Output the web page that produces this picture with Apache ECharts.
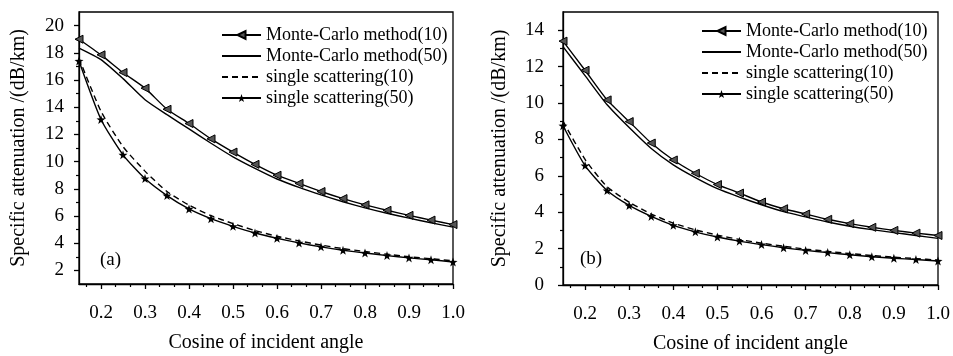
<!DOCTYPE html>
<html>
<head>
<meta charset="utf-8">
<script src="https://cdn.jsdelivr.net/npm/echarts@6/dist/echarts.min.js"></script>
<style>
html,body{margin:0;padding:0;background:#fff;}
#c{width:953px;height:356px;}
</style>
</head>
<body>
<div id="c"></div>
<script>
// ---- data ----
var cosAngle = [0.15,0.2,0.25,0.3,0.35,0.4,0.45,0.5,0.55,0.6,0.65,0.7,0.75,0.8,0.85,0.9,0.95,1.0];
var seriesNames = ["Monte-Carlo method(10)","Monte-Carlo method(50)","single scattering(10)","single scattering(50)"];
// panel (a)
var mc10a = [19.0,17.85,16.55,15.4,13.85,12.8,11.67,10.7,9.8,9.0,8.4,7.8,7.28,6.82,6.42,6.05,5.7,5.37];
var mc50a = [18.35,17.5,16.1,14.55,13.45,12.4,11.35,10.35,9.5,8.72,8.1,7.55,7.05,6.6,6.2,5.84,5.5,5.18];
var ss10a = [17.6,13.7,11.1,9.3,7.8,6.8,6.03,5.44,4.93,4.51,4.17,3.86,3.6,3.39,3.19,3.0,2.86,2.7];
var ss50a = [17.4,13.1,10.5,8.75,7.5,6.52,5.8,5.24,4.75,4.36,4.02,3.73,3.48,3.28,3.09,2.92,2.78,2.62];
// panel (b)
var mc10b = [13.4,11.8,10.17,8.98,7.8,6.87,6.14,5.52,5.05,4.56,4.19,3.9,3.61,3.37,3.17,3.0,2.85,2.72];
var mc50b = [13.1,11.5,9.9,8.65,7.5,6.6,5.9,5.29,4.83,4.41,4.03,3.74,3.46,3.23,3.04,2.88,2.72,2.56];
var ss10b = [9.0,6.9,5.4,4.55,3.9,3.4,3.03,2.74,2.5,2.3,2.13,1.97,1.85,1.73,1.62,1.53,1.45,1.37];
var ss50b = [8.75,6.56,5.19,4.37,3.77,3.28,2.92,2.64,2.41,2.22,2.05,1.9,1.78,1.66,1.55,1.47,1.4,1.32];
// ticks
var xTicks = [0.2,0.3,0.4,0.5,0.6,0.7,0.8,0.9,1.0];
var xMinorTicks = [0.1667,0.2333,0.2667,0.3333,0.3667,0.4333,0.4667,0.5333,0.5667,0.6333,0.6667,0.7333,0.7667,0.8333,0.8667,0.9333,0.9667];
var yTicksA = [2,4,6,8,10,12,14,16,18,20];
var yMinorA = [3,5,7,9,11,13,15,17,19];
var yTicksB = [0,2,4,6,8,10,12,14];
var yMinorB = [1,3,5,7,9,11,13];
var xName = "Cosine of incident angle";
var yName = "Specific attenuation /(dB/km)";
var panelLabels = ["(a)","(b)"];

var FONT = "Liberation Serif, 'Times New Roman', serif";
var STAR = 'path://M0,-10 L2.35,-3.24 L9.51,-3.09 L3.8,1.24 L5.88,8.09 L0,4 L-5.88,8.09 L-3.8,1.24 L-9.51,-3.09 L-2.35,-3.24 Z';

function pairs(ys){ return cosAngle.map(function(x,i){ return [x, ys[i]]; }); }

function mainX(gi){
  return {
    type:'value', gridIndex:gi, min:0.15, max:1.0, position:'bottom',
    name:xName, nameLocation:'middle', nameGap:49,
    nameTextStyle:{fontFamily:FONT, fontSize:20, color:'#000'},
    axisLine:{show:true, lineStyle:{color:'#000', width:1.3}},
    axisTick:{show:true, inside:false, length:5, customValues:xTicks, lineStyle:{color:'#000', width:1.3}},
    axisLabel:{show:true, customValues:xTicks, margin:20, fontFamily:FONT, fontSize:19, color:'#000',
      formatter:function(v){ return v.toFixed(1); }},
    splitLine:{show:false}
  };
}
function minorX(gi){
  return {
    type:'value', gridIndex:gi, min:0.15, max:1.0, position:'bottom',
    axisLine:{show:false},
    axisTick:{show:true, inside:false, length:3, customValues:xMinorTicks, lineStyle:{color:'#000', width:1.2}},
    axisLabel:{show:false},
    splitLine:{show:false}
  };
}
function mainY(gi, mn, mx, ticks, margin, gap){
  return {
    type:'value', gridIndex:gi, min:mn, max:mx, position:'left',
    name:yName, nameLocation:'middle', nameGap:gap,
    nameTextStyle:{fontFamily:FONT, fontSize:20, color:'#000'},
    axisLine:{show:true, lineStyle:{color:'#000', width:1.3}},
    axisTick:{show:true, inside:false, length:5, customValues:ticks, lineStyle:{color:'#000', width:1.3}},
    axisLabel:{show:true, customValues:ticks, margin:margin, fontFamily:FONT, fontSize:19, color:'#000'},
    splitLine:{show:false}
  };
}
function minorY(gi, mn, mx, ticks){
  return {
    type:'value', gridIndex:gi, min:mn, max:mx, position:'left',
    axisLine:{show:false},
    axisTick:{show:true, inside:false, length:3, customValues:ticks, lineStyle:{color:'#000', width:1.2}},
    axisLabel:{show:false},
    splitLine:{show:false}
  };
}

function makeSeries(ai, d){
  var common = {type:'line', xAxisIndex:ai, yAxisIndex:ai, smooth:0.2, animation:false, z:3};
  var hiddenMark = {color:'rgba(0,0,0,0)', borderColor:'rgba(0,0,0,0)', borderWidth:0};
  return [
    Object.assign({}, common, {name:seriesNames[0], data:pairs(d[0]),
      symbol:'triangle', symbolRotate:90, symbolSize:8, showSymbol:true,
      itemStyle:{color:'#555', borderColor:'#000', borderWidth:1},
      lineStyle:{color:'#000', width:1.4, type:'solid'}}),
    Object.assign({}, common, {name:seriesNames[1], data:pairs(d[1]),
      symbol:'circle', showSymbol:false,
      itemStyle:hiddenMark,
      lineStyle:{color:'#000', width:1.4, type:'solid'}}),
    Object.assign({}, common, {name:seriesNames[2], data:pairs(d[2]),
      symbol:'circle', showSymbol:false,
      itemStyle:hiddenMark,
      lineStyle:{color:'#000', width:1.4, type:[6,4]}}),
    Object.assign({}, common, {name:seriesNames[3], data:pairs(d[3]),
      symbol:STAR, symbolSize:9, showSymbol:true,
      itemStyle:{color:'#000', borderColor:'#000', borderWidth:0},
      lineStyle:{color:'#000', width:1.4, type:'solid'}})
  ];
}

var chart = echarts.init(document.getElementById('c'), null, {renderer:'canvas'});
var legendBase = {orient:'vertical', itemGap:3, itemWidth:39, itemHeight:10, selectedMode:false,
  textStyle:{fontFamily:FONT, fontSize:18, color:'#000'}, data:seriesNames};

var option = {
  backgroundColor:'#fff',
  animation:false,
  grid:[
    {left:79, top:12, width:374, height:272, show:true, borderColor:'#000', borderWidth:1.3, backgroundColor:'transparent', outerBoundsMode:'none', containLabel:false},
    {left:563, top:12, width:375, height:273, show:true, borderColor:'#000', borderWidth:1.3, backgroundColor:'transparent', outerBoundsMode:'none', containLabel:false}
  ],
  legend:[
    Object.assign({}, legendBase, {left:216, top:21}),
    Object.assign({}, legendBase, {left:696, top:17})
  ],
  xAxis:[mainX(0), minorX(0), mainX(1), minorX(1)],
  yAxis:[mainY(0,1,21,yTicksA,15,50), minorY(0,1,21,yMinorA), mainY(1,0,15,yTicksB,19,53), minorY(1,0,15,yMinorB)],
  graphic:[
    {type:'text', left:100, top:251, style:{text:panelLabels[0], font:'19px ' + FONT, fill:'#000'}},
    {type:'text', left:580, top:250, style:{text:panelLabels[1], font:'19px ' + FONT, fill:'#000'}}
  ],
  series: makeSeries(0,[mc10a,mc50a,ss10a,ss50a]).concat(makeSeries(2,[mc10b,mc50b,ss10b,ss50b]))
};
chart.setOption(option);
</script>
</body>
</html>
